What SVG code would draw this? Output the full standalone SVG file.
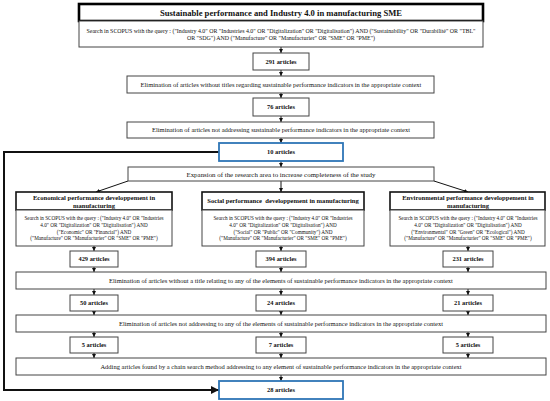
<svg xmlns="http://www.w3.org/2000/svg" width="550" height="401" viewBox="0 0 550 401">
<style>
text{font-family:"Liberation Serif","Times New Roman",serif;fill:#111;text-anchor:middle}
.box{fill:#fff;stroke:#444;stroke-width:1}
.hdr{fill:#fff;stroke:#111;stroke-width:1.6}
.ttl{fill:#fff;stroke:#000;stroke-width:2.6}
.blue{fill:#fff;stroke:#2E75B6;stroke-width:1.8}
.t{font-size:6.5px}
.q{font-size:5.2px}
.qt{font-size:5.9px}
.b{font-size:6.4px;font-weight:bold}
.h{font-size:6.6px;font-weight:bold}
.c{stroke:#111;stroke-width:1;fill:none}
.k{stroke:#111;stroke-width:2;fill:none}
</style>
<defs>
<marker id="a" viewBox="0 0 6 6" refX="6" refY="3" markerWidth="4" markerHeight="4" markerUnits="userSpaceOnUse" orient="auto"><path d="M0,0L6,3L0,6z" fill="#111"/></marker>
<marker id="A" viewBox="0 0 8 8" refX="8" refY="4" markerWidth="9" markerHeight="8" markerUnits="userSpaceOnUse" orient="auto"><path d="M0,0L8,4L0,8z" fill="#111"/></marker>
</defs>
<g id="connectors">
<line class="c" x1="281" y1="47" x2="281" y2="53" marker-end="url(#a)"/>
<line class="c" x1="281" y1="70" x2="281" y2="76" marker-end="url(#a)"/>
<line class="c" x1="281" y1="93" x2="281" y2="98" marker-end="url(#a)"/>
<line class="c" x1="281" y1="116" x2="281" y2="122" marker-end="url(#a)"/>
<line class="c" x1="281" y1="138" x2="281" y2="143" marker-end="url(#a)"/>
<line class="c" x1="281" y1="161" x2="281" y2="167" marker-end="url(#a)"/>
<line class="c" x1="128" y1="181" x2="96" y2="192" marker-end="url(#a)"/>
<line class="c" x1="281" y1="181" x2="281" y2="192" marker-end="url(#a)"/>
<line class="c" x1="434" y1="181" x2="468" y2="192" marker-end="url(#a)"/>
<line class="c" x1="94" y1="246" x2="94" y2="251" marker-end="url(#a)"/>
<line class="c" x1="281" y1="246" x2="281" y2="251" marker-end="url(#a)"/>
<line class="c" x1="468" y1="246" x2="468" y2="251" marker-end="url(#a)"/>
<line class="c" x1="94" y1="267" x2="94" y2="272" marker-end="url(#a)"/>
<line class="c" x1="281" y1="267" x2="281" y2="272" marker-end="url(#a)"/>
<line class="c" x1="468" y1="267" x2="468" y2="272" marker-end="url(#a)"/>
<line class="c" x1="94" y1="289" x2="94" y2="295" marker-end="url(#a)"/>
<line class="c" x1="281" y1="289" x2="281" y2="295" marker-end="url(#a)"/>
<line class="c" x1="468" y1="289" x2="468" y2="295" marker-end="url(#a)"/>
<line class="c" x1="94" y1="311" x2="94" y2="315" marker-end="url(#a)"/>
<line class="c" x1="281" y1="311" x2="281" y2="315" marker-end="url(#a)"/>
<line class="c" x1="468" y1="311" x2="468" y2="315" marker-end="url(#a)"/>
<line class="c" x1="94" y1="332" x2="94" y2="337" marker-end="url(#a)"/>
<line class="c" x1="281" y1="332" x2="281" y2="337" marker-end="url(#a)"/>
<line class="c" x1="468" y1="332" x2="468" y2="337" marker-end="url(#a)"/>
<line class="c" x1="94" y1="353" x2="94" y2="358" marker-end="url(#a)"/>
<line class="c" x1="281" y1="353" x2="281" y2="358" marker-end="url(#a)"/>
<line class="c" x1="468" y1="353" x2="468" y2="358" marker-end="url(#a)"/>
<line class="c" x1="281" y1="375" x2="281" y2="381" marker-end="url(#a)"/>
<path class="k" d="M219,152H4V390H219" marker-end="url(#A)"/>
</g>
<g id="title"><rect class="ttl" x="79" y="4" width="404" height="17"/><text x="281" y="15.5" style="font-size:8.6px;font-weight:bold">Sustainable performance and Industry 4.0 in manufacturing SME</text></g>
<g id="query"><rect class="box" x="79" y="21" width="404" height="26"/>
<text class="qt" x="281" y="32.6">Search in SCOPUS with the query : ("Industry 4.0" OR "Industries 4.0" OR "Digitalization" OR "Digitalisation") AND ("Sustainability" OR "Durabilité" OR "TBL"</text>
<text class="qt" x="281" y="40.4">OR "SDG") AND ("Manufacture" OR "Manufacturier" OR "SME" OR "PME")</text></g>
<g id="n291"><rect class="box" x="253" y="53" width="56" height="17"/><text class="b" x="281" y="63.7">291 articles</text></g>
<g id="elim1"><rect class="box" x="127" y="76" width="307" height="17"/><text class="t" x="281" y="86.8">Elimination of articles without titles regarding sustainable performance indicators in the appropriate context</text></g>
<g id="n76"><rect class="box" x="253" y="98" width="56" height="18"/><text class="b" x="281" y="109.2">76 articles</text></g>
<g id="elim2"><rect class="box" x="127" y="122" width="307" height="16"/><text class="t" x="281" y="132.3">Elimination of articles not addressing sustainable performance indicators in the appropriate context</text></g>
<g id="n10"><rect class="blue" x="219" y="143" width="124" height="18"/><text class="b" x="281" y="154.2">10 articles</text></g>
<g id="expansion"><rect class="box" x="128" y="167" width="306" height="14"/><text x="281" y="176.5" style="font-size:6.9px">Expansion of the research area to increase completeness of the study</text></g>
<g id="hdrEco"><rect class="hdr" x="16" y="192" width="156" height="18"/><text class="h" x="94" y="199.8">Economical performance developpement in</text><text class="h" x="94" y="207.6">manufacturing</text></g>
<g id="qEco"><rect class="box" x="16" y="210" width="156" height="36"/>
<text class="q" x="94" y="219.8">Search in SCOPUS with the query : ("Industry 4.0" OR "Industries</text>
<text class="q" x="94" y="226.8">4.0" OR "Digitalization" OR "Digitalisation") AND</text>
<text class="q" x="94" y="233.6">("Economic" OR "Financial") AND</text>
<text class="q" x="94" y="240.4">("Manufacture" OR "Manufacturier" OR "SME" OR "PME")</text></g>
<g id="hdrSoc"><rect class="hdr" x="202" y="192" width="162" height="18"/><text class="h" x="283" y="203.4" xml:space="preserve">Social performance  developpement in manufacturing</text></g>
<g id="qSoc"><rect class="box" x="202" y="210" width="162" height="36"/>
<text class="q" x="283" y="219.8">Search in SCOPUS with the query : ("Industry 4.0" OR "Industries</text>
<text class="q" x="283" y="226.8">4.0" OR "Digitalization" OR "Digitalisation") AND</text>
<text class="q" x="283" y="233.6">("Social" OR "Public" OR "Community") AND</text>
<text class="q" x="283" y="240.4">("Manufacture" OR "Manufacturier" OR "SME" OR "PME")</text></g>
<g id="hdrEnv"><rect class="hdr" x="390" y="192" width="155" height="18"/><text class="h" x="468" y="199.8">Environmental performance developpement in</text><text class="h" x="468" y="207.6">manufacturing</text></g>
<g id="qEnv"><rect class="box" x="390" y="210" width="155" height="36"/>
<text class="q" x="468" y="219.8">Search in SCOPUS with the query : ("Industry 4.0" OR "Industries</text>
<text class="q" x="468" y="226.8">4.0" OR "Digitalization" OR "Digitalisation") AND</text>
<text class="q" x="468" y="233.6">("Environmental" OR "Green" OR "Ecological") AND</text>
<text class="q" x="468" y="240.4">("Manufacture" OR "Manufacturier" OR "SME" OR "PME")</text></g>
<g id="n429"><rect class="box" x="70" y="251" width="48" height="16"/><text class="b" x="94" y="261.4">429 articles</text></g>
<g id="n394"><rect class="box" x="256" y="251" width="50" height="16"/><text class="b" x="281" y="261.4">394 articles</text></g>
<g id="n231"><rect class="box" x="443" y="251" width="50" height="16"/><text class="b" x="468" y="261.4">231 articles</text></g>
<g id="elim3"><rect class="box" x="16" y="272" width="530" height="17"/><text class="t" x="281" y="282.8">Elimination of articles without a title relating to any of the elements of sustainable performance indicators in the appropriate context</text></g>
<g id="n50"><rect class="box" x="70" y="295" width="48" height="16"/><text class="b" x="94" y="305.4">50 articles</text></g>
<g id="n24"><rect class="box" x="256" y="295" width="50" height="16"/><text class="b" x="281" y="305.4">24 articles</text></g>
<g id="n21"><rect class="box" x="443" y="295" width="50" height="16"/><text class="b" x="468" y="305.4">21 articles</text></g>
<g id="elim4"><rect class="box" x="16" y="315" width="530" height="17"/><text class="t" x="281" y="325.8">Elimination of articles not addressing to any of the elements of sustainable performance indicators in the appropriate context</text></g>
<g id="n5a"><rect class="box" x="70" y="337" width="48" height="16"/><text class="b" x="94" y="347.4">5 articles</text></g>
<g id="n7"><rect class="box" x="256" y="337" width="50" height="16"/><text class="b" x="281" y="347.4">7 articles</text></g>
<g id="n5b"><rect class="box" x="443" y="337" width="50" height="16"/><text class="b" x="468" y="347.4">5 articles</text></g>
<g id="add"><rect class="box" x="16" y="358" width="530" height="17"/><text class="t" x="281" y="368.8">Adding articles found by a chain search method addressing to any element of sustainable performance indicators in the appropriate context</text></g>
<g id="n28"><rect class="blue" x="219" y="381" width="124" height="18"/><text class="b" x="281" y="392.2">28 articles</text></g>
</svg>
